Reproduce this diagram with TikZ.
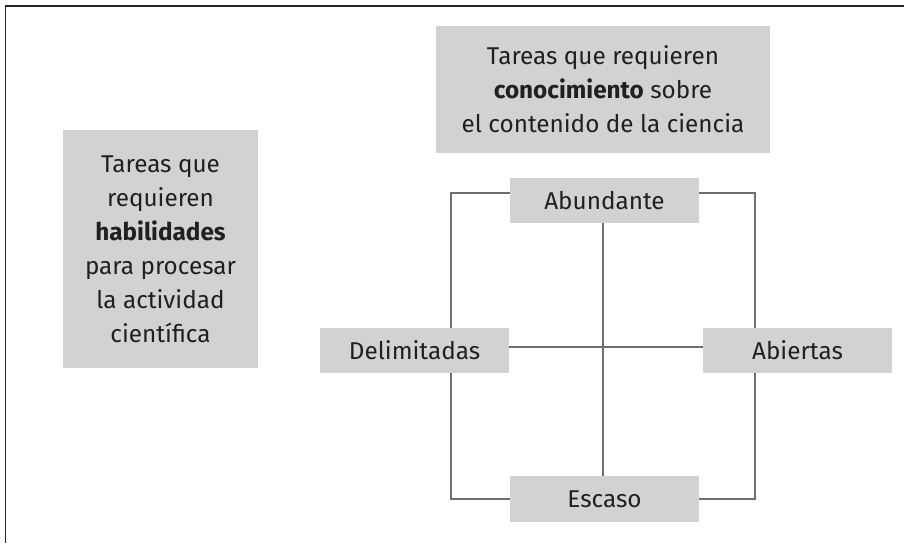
\documentclass[tikz,border=0pt]{standalone}
\usepackage{fontspec}
\setmainfont{Fira Sans}
\definecolor{boxgray}{HTML}{D1D2D4}
\definecolor{linegray}{HTML}{6E6E72}
\definecolor{txt}{HTML}{231F20}
\begin{document}
\begin{tikzpicture}[x=1pt,y=-1pt,
  gbox/.style={fill=boxgray,draw=none,text=txt,align=center,inner sep=0pt,
    font=\fontsize{24.3}{34}\selectfont},
  conn/.style={draw=linegray,line width=2.2pt},
  frame/.style={draw=black!85,line width=1.6pt}]
\useasboundingbox (0,0) rectangle (904,543);
% frame (top and left only)
\coordinate (ftr) at (904,6);
\coordinate (ftl) at (5.5,6);
\coordinate (fbl) at (5.5,543);
\draw[frame] (ftr) -- (ftl) -- (fbl);
% corner coordinates of the square
\coordinate (tl) at (451,193);
\coordinate (tr) at (755,193);
\coordinate (bl) at (451,499);
\coordinate (br) at (755,499);
% box placeholders (for connector anchors)
\node[gbox,minimum width=189,minimum height=45] (abu) at (604.5,200.5) {};
\node[gbox,minimum width=189,minimum height=46] (esc) at (604.5,499) {};
\node[gbox,minimum width=189,minimum height=45] (del) at (414.5,350.5) {};
\node[gbox,minimum width=189,minimum height=45] (abi) at (797.5,350.5) {};
% connectors (behind boxes)
\draw[conn] (abu.west |- tl) -- (tl) -- (bl) -- (esc.west |- bl);
\draw[conn] (abu.east |- tr) -- (tr) -- (br) -- (esc.east |- br);
\draw[conn] (abu.south -| 603,0) -- (esc.north -| 603,0);
\draw[conn] (del.east |- 0,347) -- (abi.west |- 0,347);
% boxes with text
\node[gbox,minimum width=189,minimum height=45] at (abu) {Abundante};
\node[gbox,minimum width=189,minimum height=46] at (esc) {Escaso};
\node[gbox,minimum width=189,minimum height=45] at (del) {Delimitadas};
\node[gbox,minimum width=189,minimum height=45] at (abi) {Abiertas};
\node[gbox,minimum width=334,minimum height=127] (top) at (603,89.5)
  {Tareas que requieren\\\textbf{conocimiento} sobre\\el contenido de la ciencia};
\node[gbox,minimum width=195,minimum height=238] (left) at (160.5,249)
  {Tareas que\\requieren\\\textbf{habilidades}\\para procesar\\la actividad\\científica};
\end{tikzpicture}
\end{document}
